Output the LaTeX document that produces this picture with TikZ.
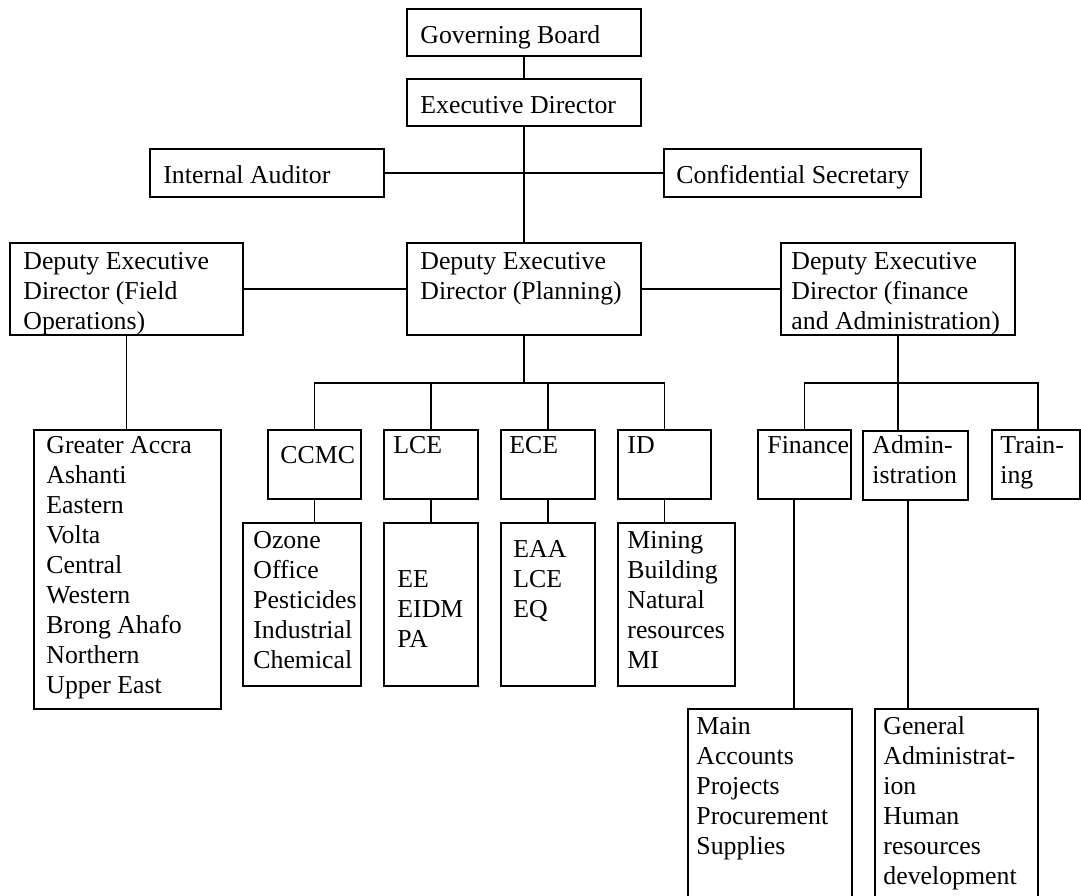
\documentclass[tikz,border=0pt]{standalone}
\usepackage{fontspec}
\setmainfont{Liberation Serif}
\usetikzlibrary{fit,calc}

% one unit = one pixel of the chart grid
\tikzset{
  x=0.5pt, y=-0.5pt,
  box/.style={draw, line width=0.9pt, inner sep=0pt},
  link/.style={line width=0.9pt},
  txt/.style={anchor=north west, inner sep=0pt, align=left,
              font=\fontsize{12.9}{15}\selectfont},
}
% label whose first baseline sits at (x, y)
\newcommand\lbl[4]{\node[txt] (#1) at (#2,#3-21) {\strut #4};}

\begin{document}
\begin{tikzpicture}
\useasboundingbox (0,0) rectangle (1081,895);
\clip (0,0) rectangle (1081,895);

% ---- boxes ----
\node[box, fit={(407,9) (641,56)}]    (gb)   {};
\node[box, fit={(407,79) (641,126)}]  (ed)   {};
\node[box, fit={(150,149) (384,197)}] (ia)   {};
\node[box, fit={(664,149) (921,197)}] (cs)   {};
\node[box, fit={(10,243) (243,335)}]  (dfo)  {};
\node[box, fit={(407,243) (641,335)}] (dpl)  {};
\node[box, fit={(781,243) (1015,335)}](dfa)  {};

\node[box, fit={(34,430) (221,709)}]  (rg)   {};
\node[box, fit={(268,430) (361,499)}] (ccmc) {};
\node[box, fit={(384,430) (478,499)}] (lce)  {};
\node[box, fit={(501,430) (595,499)}] (ece)  {};
\node[box, fit={(618,430) (711,499)}] (id)   {};
\node[box, fit={(758,430) (851,499)}] (fin)  {};
\node[box, fit={(863,431) (968,500)}] (adm)  {};
\node[box, fit={(992,430) (1080,499)}](trn)  {};

\node[box, fit={(243,523) (361,686)}] (oz)   {};
\node[box, fit={(384,523) (478,686)}] (lces) {};
\node[box, fit={(501,523) (595,686)}] (eces) {};
\node[box, fit={(618,523) (735,686)}] (ids)  {};
\node[box, fit={(688,709) (852,920)}] (mainb){};
\node[box, fit={(875,709) (1038,920)}](gen)  {};

% ---- texts ----
\lbl{gbt}{420}{43}{Governing Board}
\lbl{edt}{420}{113}{Executive Director}
\lbl{iat}{163}{183}{Internal Auditor}
\lbl{cst}{676}{183}{Confidential Secretary}
\lbl{dfot}{23}{269}{Deputy Executive\\Director (Field\\Operations)}
\lbl{dplt}{420}{269}{Deputy Executive\\Director (Planning)}
\lbl{dfat}{791}{269}{Deputy Executive\\Director (finance\\and Administration)}
\lbl{rgt}{46}{453}{Greater Accra\\Ashanti\\Eastern\\Volta\\Central\\Western\\Brong Ahafo\\Northern\\Upper East}
\lbl{ccmct}{280}{463}{CCMC}
\lbl{lcet}{393}{453}{LCE}
\lbl{ecet}{509}{453}{ECE}
\lbl{idt}{627}{453}{ID}
\lbl{fint}{767}{453}{Finance}
\lbl{admt}{872}{453}{Admin-\\istration}
\lbl{trnt}{1000}{453}{Train-\\ing}
\lbl{ozt}{253}{548}{Ozone\\Office\\Pesticides\\Industrial\\Chemical}
\lbl{lcest}{397}{587}{EE\\EIDM\\PA}
\lbl{ecest}{513}{557}{EAA\\LCE\\EQ}
\lbl{idst}{627}{548}{Mining\\Building\\Natural\\resources\\MI}
\lbl{maint}{696}{734}{Main\\Accounts\\Projects\\Procurement\\Supplies}
\lbl{gent}{883}{734}{General\\Administrat-\\ion\\Human\\resources\\development}

% ---- connectors ----
\draw[link] (gb.south) -- (ed.north);
\draw[link] (ed.south) -- (dpl.north);
\draw[link] (ia.east) -- (cs.west);
\draw[link] (dfo.east) -- (dpl.west);
\draw[link] (dpl.east) -- (dfa.west);
\draw[link] (dfo.south) -- (dfo.south |- rg.north);

% planning branch
\coordinate (pbus) at (524,383);
\draw[link] (dpl.south) -- (pbus);
\draw[link] (ccmc.north) -- (ccmc.north |- pbus) -- (id.north |- pbus) -- (id.north);
\draw[link] (lce.north) -- (lce.north |- pbus);
\draw[link] (ece.north) -- (ece.north |- pbus);
\draw[link] (ccmc.south) -- (ccmc.south |- oz.north);
\draw[link] (lce.south) -- (lces.north);
\draw[link] (ece.south) -- (eces.north);
\draw[link] (id.south) -- (id.south |- ids.north);

% finance and administration branch
\coordinate (fbus) at (898,383);
\draw[link] (dfa.south) -- (fbus);
\draw[link] (fin.north) -- (fin.north |- fbus) -- (1038,383) -- (1038,430);
\draw[link] (fbus) -- (fbus |- adm.north);
\draw[link] ($(fin.south)+(-10.5,0)$) -- ($(fin.south |- mainb.north)+(-10.5,0)$);
\draw[link] ($(adm.south)+(-7.5,0)$) -- ($(adm.south |- gen.north)+(-7.5,0)$);
\end{tikzpicture}
\end{document}
